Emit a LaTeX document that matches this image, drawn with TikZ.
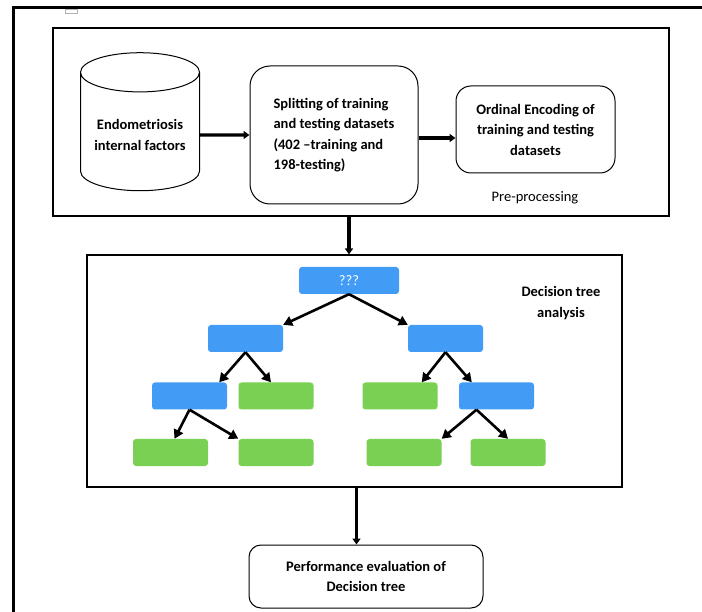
\documentclass[tikz,border=0pt]{standalone}
\usepackage{fontspec}
\setmainfont{Carlito}
\usetikzlibrary{arrows.meta,shapes.geometric}
\definecolor{treeblue}{RGB}{66,155,245}
\definecolor{treegreen}{RGB}{122,208,82}

\begin{document}
\begin{tikzpicture}[
    x=1pt, y=-1pt,
    every node/.style={font=\fontsize{14.5}{20.5}\selectfont},
    stage/.style={rectangle, draw, line width=1pt, align=center,
                  font=\fontsize{14.5}{20.5}\selectfont\bfseries},
    frame/.style={rectangle, draw, line width=1.2pt},
    leaf/.style={rectangle, rounded corners=3pt, fill=treegreen,
                 minimum width=75pt, minimum height=27pt},
    inner/.style={leaf, fill=treeblue},
    arrow/.style={-{Triangle[length=6pt,width=8pt]}, line width=3.2pt},
    treearrow/.style={-{Triangle[length=9pt,width=10pt]}, line width=2.6pt},
    ann/.style={align=center},
]
\useasboundingbox (0,0) rectangle (702,612);

% Page frame
\draw[line width=3pt] (13,612) -- (13,8) -- (702,8);
\draw[gray!60, line width=0.6pt] (65,9) rectangle (77,13);

% Pre-processing
\node[frame, minimum width=616pt, minimum height=188pt] (pre) at (361,122) {};
\node[cylinder, shape border rotate=90, draw, line width=1pt, aspect=0.4,
      minimum width=119pt, minimum height=138pt, align=center,
      font=\fontsize{14.5}{20.5}\selectfont\bfseries] (cyl) at (140,135)
      {Endometriosis\\internal factors};
\node[stage, rounded corners=20pt, minimum width=168pt, minimum height=138pt,
      align=left] (split) at (334,135)
      {Splitting of training\\and testing datasets\\(402 --training and\\198-testing)};
\node[stage, rounded corners=15pt, minimum width=159pt, minimum height=87pt]
      (ord) at (535.5,129.5) {Ordinal Encoding of\\training and testing\\datasets};
\node[ann] (prelbl) at (535,198) {Pre-processing};

% Decision tree
\node[frame, minimum width=535pt, minimum height=232pt] (tree) at (354.5,371) {};
\node[ann, font=\fontsize{14.5}{20.5}\selectfont\bfseries] (treelbl) at (561,303)
      {Decision tree\\analysis};
\node[inner, minimum width=100pt] (root) at (349,280.5) {\color{white}???};
\node[inner] (l1a) at (245.5,338.5) {};
\node[inner] (l1b) at (445.5,338.5) {};
\node[inner] (l2a) at (189.5,396) {};
\node[leaf] (l2b) at (276,396) {};
\node[leaf] (l2c) at (400,396) {};
\node[inner] (l2d) at (496.5,396) {};
\node[leaf] (l3a) at (170.5,452.5) {};
\node[leaf] (l3b) at (276,452.5) {};
\node[leaf] (l3c) at (404,452.5) {};
\node[leaf] (l3d) at (508,452.5) {};

% Output
\node[stage, rounded corners=12pt, minimum width=234pt, minimum height=63pt]
      (perf) at (366,576.5) {Performance evaluation of\\Decision tree};

% Arrows
\draw[arrow] (cyl) -- (split);
\draw[arrow] ([yshift=-3pt]split.east) -- ([yshift=-3pt]split.east -| ord.west);
\draw[arrow] (pre.south -| root) -- (tree.north -| root);
\draw[arrow] ([xshift=2pt]tree.south) -- ([xshift=2pt]tree.south |- perf.north);

\draw[treearrow] (root.south) -- (l1a.north east);
\draw[treearrow] (root.south) -- (l1b.north west);
\draw[treearrow] (l1a.south) -- ([xshift=-8pt]l2a.north east);
\draw[treearrow] (l1a.south) -- ([xshift=-5pt]l2b.north);
\draw[treearrow] (l1b.south) -- ([xshift=-16pt]l2c.north east);
\draw[treearrow] (l1b.south) -- ([xshift=13pt]l2d.north west);
\draw[treearrow] (l2a.south) -- ([xshift=4pt]l3a.north);
\draw[treearrow] (l2a.south) -- (l3b.north west);
\draw[treearrow] ([xshift=-20pt]l2d.south) -- (l3c.north east);
\draw[treearrow] ([xshift=-20pt]l2d.south) -- (l3d.north);

\end{tikzpicture}
\end{document}
